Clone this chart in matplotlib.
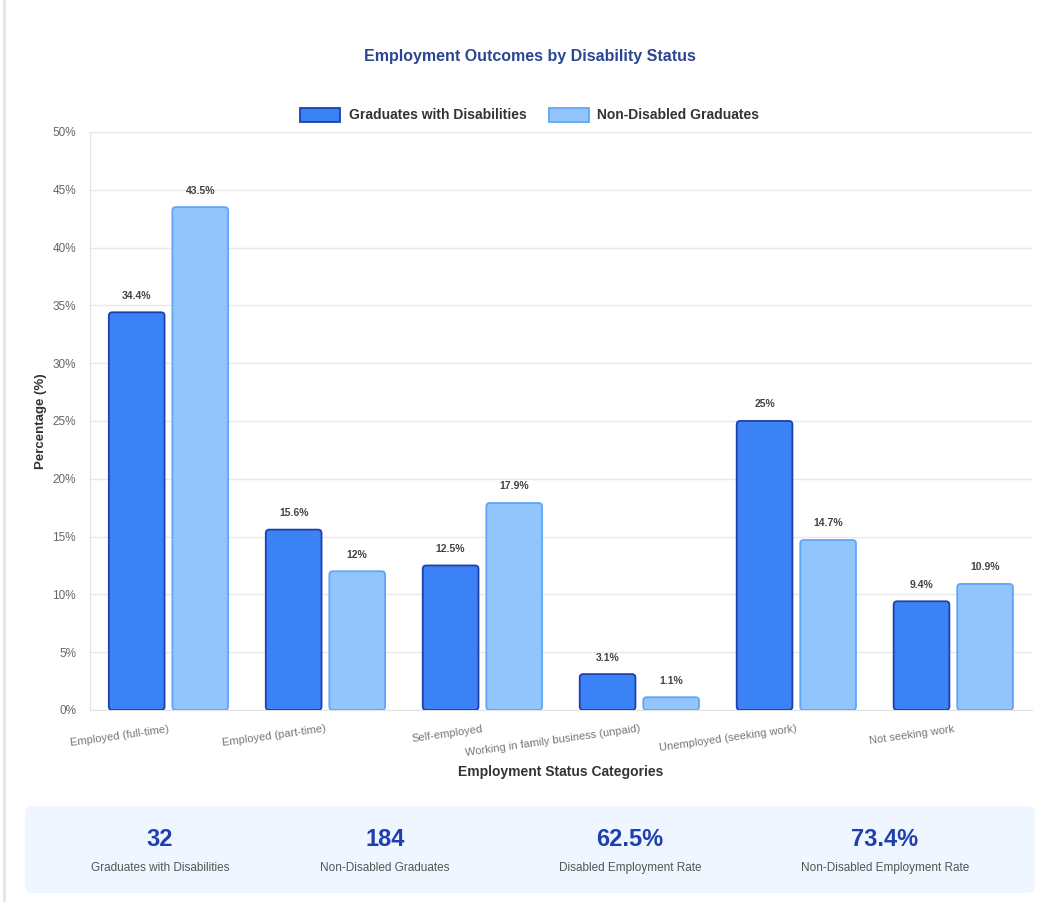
import matplotlib.pyplot as plt
import numpy as np
from matplotlib.patches import FancyBboxPatch, Patch

plt.rcParams['font.family'] = ['Liberation Sans', 'DejaVu Sans']

# employment categories and shares (%)
categories = ['Employed (full-time)', 'Employed (part-time)', 'Self-employed',
              'Working in family business (unpaid)', 'Unemployed (seeking work)',
              'Not seeking work']
disabled = [34.4, 15.6, 12.5, 3.1, 25, 9.4]
non_disabled = [43.5, 12, 17.9, 1.1, 14.7, 10.9]
series_names = ['Graduates with Disabilities', 'Non-Disabled Graduates']

stat_values = ['32', '184', '62.5%', '73.4%']
stat_labels = ['Graduates with Disabilities', 'Non-Disabled Graduates',
               'Disabled Employment Rate', 'Non-Disabled Employment Rate']

dark_fill, dark_edge = '#3b82f6', '#1e40af'
light_fill, light_edge = '#93c5fd', '#60a5fa'

fig = plt.figure(figsize=(10.55, 9.02), dpi=100)
ax = fig.add_axes([0.0853, 0.2129, 0.8927, 0.6408])
ax.set_xlim(-0.5, len(categories) - 0.5)
ax.set_ylim(0, 50)

x = np.arange(len(categories))
w = 0.355
gap = 0.025
# aspect between y and x data units, used to keep the corner rounding circular
aspect = (50 / 578) / (len(categories) / 942)


def rounded_bars(xs, vals, fill, edge):
    bars = ax.bar(xs, vals, w, color='none', edgecolor='none')
    for b in bars:
        p = FancyBboxPatch((b.get_x(), b.get_y()), b.get_width(), b.get_height(),
                           boxstyle='round,pad=0,rounding_size=0.022',
                           mutation_aspect=aspect, facecolor=fill,
                           edgecolor=edge, linewidth=1.3, zorder=3)
        ax.add_patch(p)
    for xi, v in zip(xs, vals):
        ax.text(xi, v + 1.0, f'{v:g}%', ha='center', va='bottom', fontsize=7.5,
                fontweight='bold', color='#444444')


rounded_bars(x - w / 2 - gap, disabled, dark_fill, dark_edge)
rounded_bars(x + w / 2 + gap, non_disabled, light_fill, light_edge)

ax.set_yticks(np.arange(0, 51, 5))
ax.set_yticklabels([f'{t}%' for t in range(0, 51, 5)])
ax.set_xticks(x)
ax.set_xticklabels(categories, rotation=8, ha='right', rotation_mode='anchor')
ax.tick_params(axis='both', length=0, labelsize=8.5, labelcolor='#666666')
ax.tick_params(axis='x', labelsize=8, labelcolor='#777777', pad=10)
ax.tick_params(axis='y', pad=10)
ax.grid(axis='y', color='#e8e8e8', linewidth=1, zorder=0)
for s in ['top', 'right']:
    ax.spines[s].set_visible(False)
for s in ['left', 'bottom']:
    ax.spines[s].set_color('#e3e3e3')

ax.set_ylabel('Percentage (%)', fontsize=9.5, fontweight='bold', color='#333333',
              labelpad=4)
ax.set_xlabel('Employment Status Categories', fontsize=10, fontweight='bold',
              color='#333333', labelpad=5)

fig.text(0.502, 1 - 57 / 902, 'Employment Outcomes by Disability Status',
         ha='center', va='center', fontsize=11.5, fontweight='bold', color='#2a4593')

handles = [Patch(facecolor=dark_fill, edgecolor=dark_edge, linewidth=1.3),
           Patch(facecolor=light_fill, edgecolor=light_edge, linewidth=1.3)]
leg = fig.legend(handles, series_names, loc='center',
                 bbox_to_anchor=(0.502, 1 - 115 / 902), ncol=2, frameon=False,
                 fontsize=10, handlelength=2.9, handleheight=1.2,
                 columnspacing=1.6, handletextpad=0.6)
for t in leg.get_texts():
    t.set_fontweight('bold')
    t.set_color('#333333')

# page edge on the left
fig.add_artist(plt.Line2D([4 / 1055, 4 / 1055], [0, 1], color='#e6e6e6',
                          linewidth=2, transform=fig.transFigure))

# summary panel
panel = FancyBboxPatch((25 / 1055, 1 - 893 / 902), 1010 / 1055, 87 / 902,
                       boxstyle='round,pad=0,rounding_size=0.008',
                       transform=fig.transFigure, facecolor='#eff6ff',
                       edgecolor='none')
fig.add_artist(panel)
stat_x = [160, 385, 630, 885]
for sx, val, lab in zip(stat_x, stat_values, stat_labels):
    fig.text(sx / 1055, 1 - 840 / 902, val, ha='center', va='center',
             fontsize=17, fontweight='bold', color='#1e40af')
    fig.text(sx / 1055, 1 - 868 / 902, lab, ha='center', va='center',
             fontsize=8.5, color='#555555')

fig.savefig('out.png', dpi=100, facecolor='white')
